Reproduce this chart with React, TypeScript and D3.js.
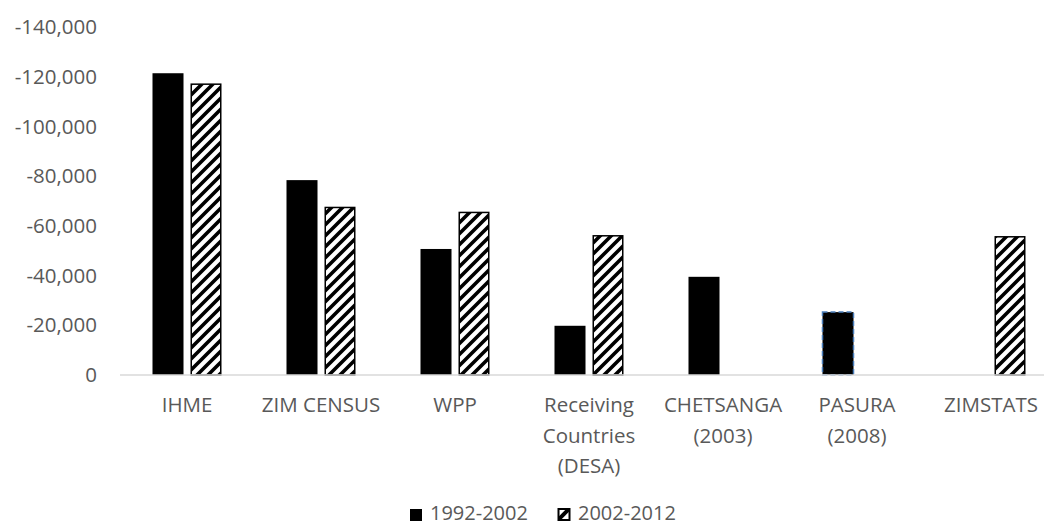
import React from "react";
import * as d3 from "d3";

const categories = ["IHME", "ZIM CENSUS", "WPP", "Receiving Countries (DESA)", "CHETSANGA (2003)", "PASURA (2008)", "ZIMSTATS"];
const categoryLines = [["IHME"], ["ZIM CENSUS"], ["WPP"], ["Receiving", "Countries", "(DESA)"], ["CHETSANGA", "(2003)"], ["PASURA", "(2008)"], ["ZIMSTATS"]];
const series = ["1992-2002", "2002-2012"];
const values1992: (number | null)[] = [-121400, -78400, -50700, -19800, -39500, -25300, null];
const values2002: (number | null)[] = [-117300, -67700, -65700, -56300, null, null, -55900];
const yTicks = [0, -20000, -40000, -60000, -80000, -100000, -120000, -140000];

const W = 1044, H = 527;
const FONT = "'Open Sans', sans-serif";
const TXT = "#595959";

export default function App() {
  const x0 = d3.scaleBand<string>().domain(categories).range([120, 1058]).paddingInner(0.485).paddingOuter(0.2425);
  const x1 = d3.scaleBand<string>().domain(series).range([0, x0.bandwidth()]).paddingInner(0.184);
  const y = d3.scaleLinear().domain([0, -140000]).range([375, 27]);
  const fmt = d3.formatLocale({ decimal: ".", thousands: ",", grouping: [3], currency: ["$", ""], minus: "-" }).format(",");
  const data = [values1992, values2002];

  return (
    <svg width={W} height={H} style={{ position: "absolute", left: 0, top: 0, background: "#fff" }}>
      <defs>
        <pattern id="hatch" patternUnits="userSpaceOnUse" width={11} height={11}>
          <rect width={11} height={11} fill="#fff" />
          <path d="M-2,2 L2,-2 M0,11 L11,0 M9,13 L13,9" stroke="#000" strokeWidth={3.6} />
        </pattern>
        <pattern id="hatchL" patternUnits="userSpaceOnUse" width={14} height={14} x={557} y={507}>
          <rect width={14} height={14} fill="#fff" />
          <path d="M0,14 L14,0" stroke="#000" strokeWidth={4} />
        </pattern>
      </defs>
      <rect width={W} height={H} fill="#fff" />
      {yTicks.map((t) => (
        <text key={t} x={97} y={y(t)} dy="0.35em" textAnchor="end" fill={TXT} fontFamily={FONT} fontSize={20.5}>
          {fmt(t)}
        </text>
      ))}
      {categories.map((c, ci) =>
        series.map((s, si) => {
          const v = data[si][ci];
          if (v === null) return null;
          const bx = (x0(c) as number) + (x1(s) as number);
          const bw = x1.bandwidth();
          const top = y(v);
          const h = y(0) - top;
          if (si === 0) {
            const dashed = c === "PASURA (2008)";
            return (
              <rect key={c + s} x={bx} y={top} width={bw} height={h} fill="#000"
                stroke={dashed ? "#4a7ebb" : "none"} strokeWidth={dashed ? 1.5 : 0} strokeDasharray={dashed ? "5,3" : undefined} />
            );
          }
          return <rect key={c + s} x={bx + 0.75} y={top + 0.75} width={bw - 1.5} height={h - 0.75} fill="url(#hatch)" stroke="#000" strokeWidth={1.5} />;
        })
      )}
      <line x1={120} x2={W} y1={y(0)} y2={y(0)} stroke="#d9d9d9" strokeWidth={1.5} />
      {categories.map((c, ci) => (
        <text key={c} x={(x0(c) as number) + x0.bandwidth() / 2} y={405} textAnchor="middle" fill={TXT} fontFamily={FONT} fontSize={20.5}>
          {categoryLines[ci].map((l, li) => (
            <tspan key={li} x={(x0(c) as number) + x0.bandwidth() / 2} dy={li === 0 ? "0.35em" : 30.5}>{l}</tspan>
          ))}
        </text>
      ))}
      <rect x={410} y={509} width={12} height={12} fill="#000" />
      <text x={430} y={513} dy="0.35em" fill={TXT} fontFamily={FONT} fontSize={20}>{series[0]}</text>
      <rect x={558.5} y={509} width={11} height={11} fill="url(#hatchL)" stroke="#000" strokeWidth={2} />
      <text x={578} y={513} dy="0.35em" fill={TXT} fontFamily={FONT} fontSize={20}>{series[1]}</text>
    </svg>
  );
}
